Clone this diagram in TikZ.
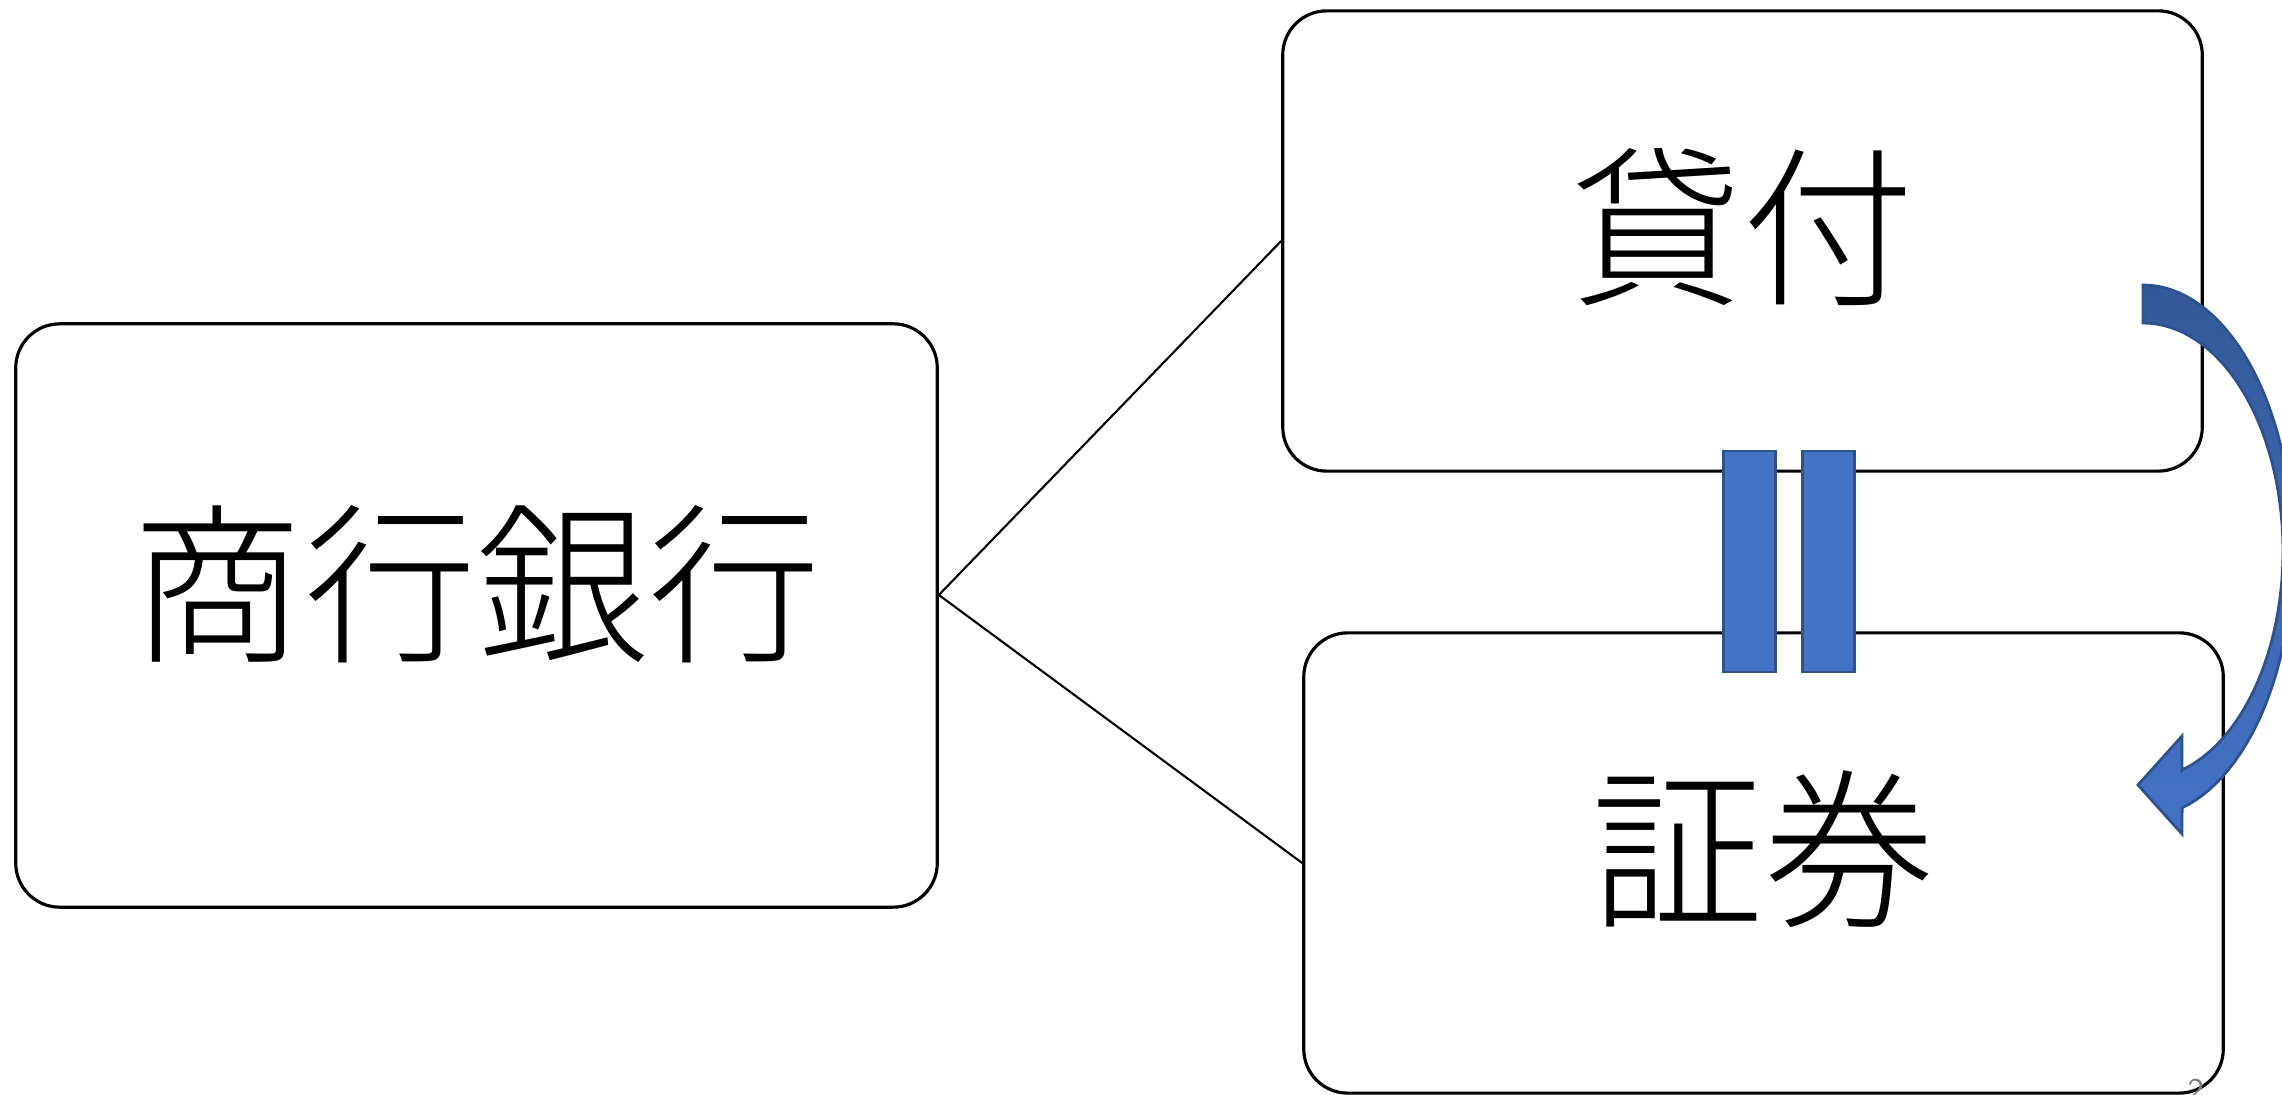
\documentclass[tikz,border=0pt]{standalone}
\usepackage{fontspec}
\IfFontExistsTF{Noto Sans CJK JP Light}
  {\newfontfamily\jpfont{Noto Sans CJK JP Light}}
  {\newfontfamily\jpfont{Noto Sans CJK JP}}
\usetikzlibrary{positioning}
\definecolor{accentblue}{HTML}{4472C4}
\definecolor{accentdark}{HTML}{2F528F}
\definecolor{arrowtop}{HTML}{34599A}

\begin{document}
\begin{tikzpicture}[
        x=0.01cm, y=-0.01cm,
        % Styles
        topic/.style ={rectangle, rounded corners=0.44cm, draw=black, line width=0.9pt, fill=white, minimum width=9.19cm, minimum height=4.6cm, align=center, font=\jpfont\fontsize{49pt}{56pt}\selectfont},
        bar/.style   ={rectangle, draw=accentdark, line width=0.8pt, fill=accentblue, minimum width=0.52cm, minimum height=2.21cm, inner sep=0pt},
        link/.style  ={line width=0.6pt},
        turn/.style  ={draw=accentdark, line width=0.8pt, top color=arrowtop, bottom color=accentblue}
    ]

    % page frame
    \clip (0,0) rectangle (2282,1095);

    % --- BOXES ---
    \node[topic, minimum width=9.21cm, minimum height=5.83cm] (Bank) at (476.5,615.5) {\raisebox{0.77cm}{商行銀行}};
    \node[topic] (Loan) at (1742.5,241) {\raisebox{0.41cm}{貸付}};
    \node[topic] (Secu) at (1763.5,863) {\raisebox{0.41cm}{証券}};

    % --- CONNECTORS ---
    \coordinate (Fork) at (Bank.east |- 0,595);
    \draw[link] (Fork) -- (Loan.west);
    \draw[link] (Fork) -- (Secu.west);

    % --- CURVED ARROW (right side) ---
    \coordinate (TailTop) at (2143,285);
    \coordinate (TipEnd) at (2138,785);
    \path[turn] (TailTop)
        -- plot[domain=90:-74.9, samples=60, variable=\t] ({2143+150*cos(\t)},{551-266*sin(\t)})
        -- (2182,834) -- (TipEnd) -- (2182,736) -- (2182,770)
        -- plot[domain=-73.8:90, samples=60, variable=\t] ({2143+140*cos(\t)},{551-228*sin(\t)})
        -- cycle;

    % --- EQUALS BARS ---
    \node[bar] (BarL) at (1749.5,561.5) {};
    \node[bar, right=0.24cm of BarL] (BarR) {};

    % slide number
    \node[anchor=base, text=gray, font=\sffamily\small, inner sep=0pt] (PageNo) at (2196,1100) {2};

\end{tikzpicture}
\end{document}
